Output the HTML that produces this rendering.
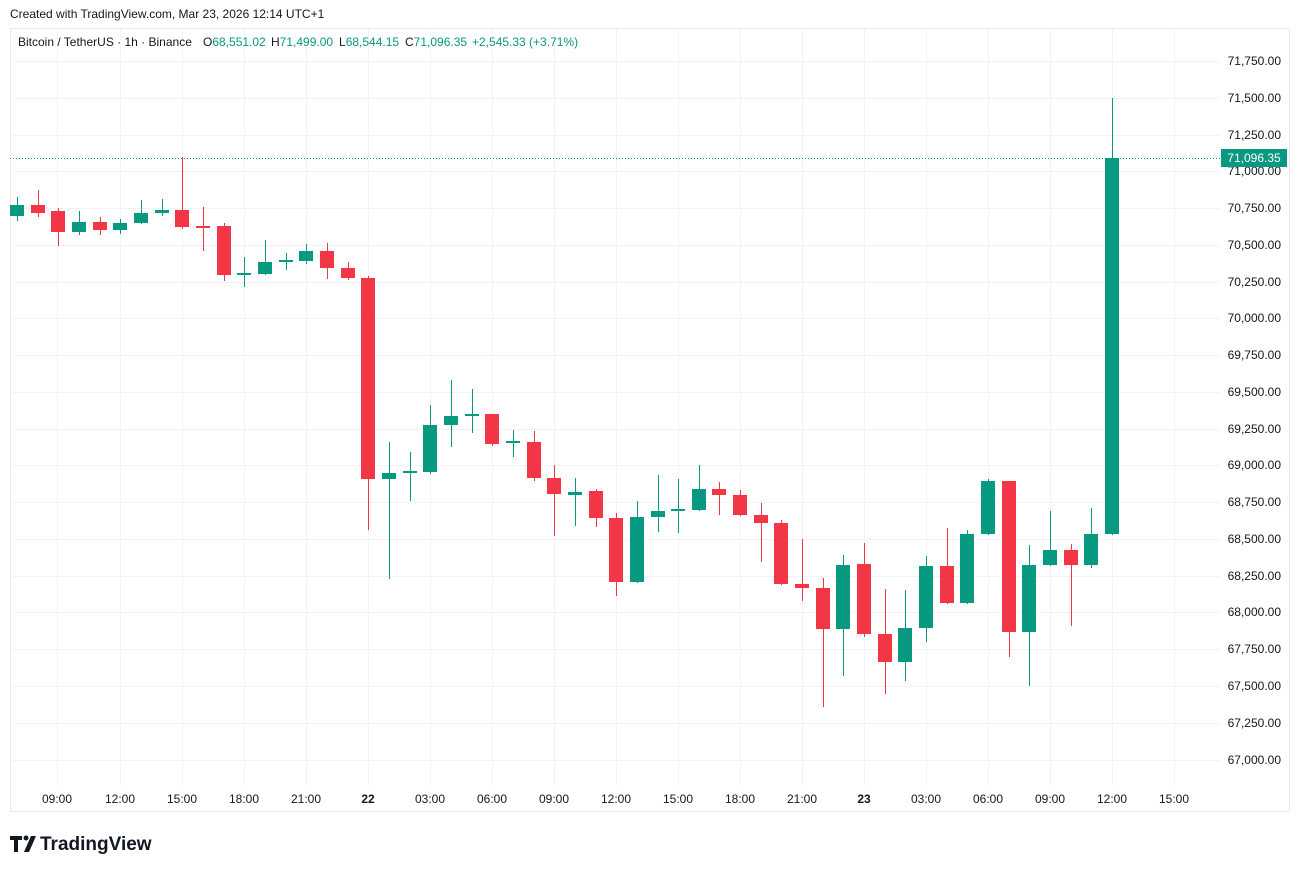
<!DOCTYPE html>
<html><head><meta charset="utf-8"><style>
html,body{margin:0;padding:0;background:#fff;}
svg{display:block;font-family:"Liberation Sans",sans-serif;}
.g line{stroke:#089981}.g rect{fill:#089981}
.r line{stroke:#f23645}.r rect{fill:#f23645}
</style></head><body>
<svg width="1300" height="873" viewBox="0 0 1300 873" xmlns="http://www.w3.org/2000/svg">
<rect width="1300" height="873" fill="#fff"/>
<text x="10" y="18" font-size="12" fill="#131722">Created with TradingView.com, Mar 23, 2026 12:14 UTC+1</text>
<rect x="10.5" y="28.5" width="1279" height="783" fill="none" stroke="#e8eaee"/>
<g stroke="#f0f3fa" stroke-width="1">
<line x1="10" x2="1220" y1="61.5" y2="61.5"/><line x1="10" x2="1220" y1="98.5" y2="98.5"/>
<line x1="10" x2="1220" y1="135.5" y2="135.5"/><line x1="10" x2="1220" y1="171.5" y2="171.5"/>
<line x1="10" x2="1220" y1="208.5" y2="208.5"/><line x1="10" x2="1220" y1="245.5" y2="245.5"/>
<line x1="10" x2="1220" y1="282.5" y2="282.5"/><line x1="10" x2="1220" y1="318.5" y2="318.5"/>
<line x1="10" x2="1220" y1="355.5" y2="355.5"/><line x1="10" x2="1220" y1="392.5" y2="392.5"/>
<line x1="10" x2="1220" y1="429.5" y2="429.5"/><line x1="10" x2="1220" y1="465.5" y2="465.5"/>
<line x1="10" x2="1220" y1="502.5" y2="502.5"/><line x1="10" x2="1220" y1="539.5" y2="539.5"/>
<line x1="10" x2="1220" y1="576.5" y2="576.5"/><line x1="10" x2="1220" y1="612.5" y2="612.5"/>
<line x1="10" x2="1220" y1="649.5" y2="649.5"/><line x1="10" x2="1220" y1="686.5" y2="686.5"/>
<line x1="10" x2="1220" y1="723.5" y2="723.5"/><line x1="10" x2="1220" y1="760.5" y2="760.5"/>
<line y1="29" y2="785" x1="57.5" x2="57.5"/><line y1="29" y2="785" x1="120.5" x2="120.5"/>
<line y1="29" y2="785" x1="182.5" x2="182.5"/><line y1="29" y2="785" x1="244.5" x2="244.5"/>
<line y1="29" y2="785" x1="306.5" x2="306.5"/><line y1="29" y2="785" x1="368.5" x2="368.5"/>
<line y1="29" y2="785" x1="430.5" x2="430.5"/><line y1="29" y2="785" x1="492.5" x2="492.5"/>
<line y1="29" y2="785" x1="554.5" x2="554.5"/><line y1="29" y2="785" x1="616.5" x2="616.5"/>
<line y1="29" y2="785" x1="678.5" x2="678.5"/><line y1="29" y2="785" x1="740.5" x2="740.5"/>
<line y1="29" y2="785" x1="802.5" x2="802.5"/><line y1="29" y2="785" x1="864.5" x2="864.5"/>
<line y1="29" y2="785" x1="926.5" x2="926.5"/><line y1="29" y2="785" x1="988.5" x2="988.5"/>
<line y1="29" y2="785" x1="1050.5" x2="1050.5"/><line y1="29" y2="785" x1="1112.5" x2="1112.5"/>
<line y1="29" y2="785" x1="1174.5" x2="1174.5"/>
</g>
<g font-size="12" fill="#131722">
<text x="18" y="46">Bitcoin / TetherUS · 1h · Binance</text>
<text x="203" y="46">O<tspan fill="#089981">68,551.02</tspan></text>
<text x="271" y="46">H<tspan fill="#089981">71,499.00</tspan></text>
<text x="339" y="46">L<tspan fill="#089981">68,544.15</tspan></text>
<text x="405" y="46">C<tspan fill="#089981">71,096.35</tspan></text>
<text x="472" y="46" fill="#089981">+2,545.33 (+3.71%)</text>
</g>
<g font-size="12" fill="#131722" text-anchor="end">
<text x="1281" y="65">71,750.00</text><text x="1281" y="102">71,500.00</text>
<text x="1281" y="139">71,250.00</text><text x="1281" y="175">71,000.00</text>
<text x="1281" y="212">70,750.00</text><text x="1281" y="249">70,500.00</text>
<text x="1281" y="286">70,250.00</text><text x="1281" y="322">70,000.00</text>
<text x="1281" y="359">69,750.00</text><text x="1281" y="396">69,500.00</text>
<text x="1281" y="433">69,250.00</text><text x="1281" y="469">69,000.00</text>
<text x="1281" y="506">68,750.00</text><text x="1281" y="543">68,500.00</text>
<text x="1281" y="580">68,250.00</text><text x="1281" y="616">68,000.00</text>
<text x="1281" y="653">67,750.00</text><text x="1281" y="690">67,500.00</text>
<text x="1281" y="727">67,250.00</text><text x="1281" y="764">67,000.00</text>
</g>
<g font-size="12" fill="#131722" text-anchor="middle">
<text x="57" y="803">09:00</text><text x="120" y="803">12:00</text><text x="182" y="803">15:00</text>
<text x="244" y="803">18:00</text><text x="306" y="803">21:00</text><text x="368" y="803" font-weight="bold">22</text>
<text x="430" y="803">03:00</text><text x="492" y="803">06:00</text><text x="554" y="803">09:00</text>
<text x="616" y="803">12:00</text><text x="678" y="803">15:00</text><text x="740" y="803">18:00</text>
<text x="802" y="803">21:00</text><text x="864" y="803" font-weight="bold">23</text><text x="926" y="803">03:00</text>
<text x="988" y="803">06:00</text><text x="1050" y="803">09:00</text><text x="1112" y="803">12:00</text>
<text x="1174" y="803">15:00</text>
</g>
<line x1="10" x2="1220" y1="158.5" y2="158.5" stroke="#089981" stroke-dasharray="1,2"/>

<g class="g"><line x1="17.5" x2="17.5" y1="197" y2="221"/><rect x="10" y="205" width="14" height="11"/></g>
<g class="r"><line x1="38.5" x2="38.5" y1="190" y2="217"/><rect x="31" y="205" width="14" height="8"/></g>
<g class="r"><line x1="58.5" x2="58.5" y1="208" y2="246"/><rect x="51" y="211" width="14" height="21"/></g>
<g class="g"><line x1="79.5" x2="79.5" y1="211" y2="235"/><rect x="72" y="222" width="14" height="10"/></g>
<g class="r"><line x1="100.5" x2="100.5" y1="217" y2="235"/><rect x="93" y="222" width="14" height="8"/></g>
<g class="g"><line x1="120.5" x2="120.5" y1="219" y2="234"/><rect x="113" y="223" width="14" height="7"/></g>
<g class="g"><line x1="141.5" x2="141.5" y1="200" y2="224"/><rect x="134" y="213" width="14" height="10"/></g>
<g class="g"><line x1="162.5" x2="162.5" y1="199" y2="216"/><rect x="155" y="210" width="14" height="3"/></g>
<g class="r"><line x1="182.5" x2="182.5" y1="157" y2="229"/><rect x="175" y="210" width="14" height="17"/></g>
<g class="r"><line x1="203.5" x2="203.5" y1="207" y2="251"/><rect x="196" y="226" width="14" height="2"/></g>
<g class="r"><line x1="224.5" x2="224.5" y1="223" y2="281"/><rect x="217" y="226" width="14" height="49"/></g>
<g class="g"><line x1="244.5" x2="244.5" y1="257" y2="287"/><rect x="237" y="273" width="14" height="2"/></g>
<g class="g"><line x1="265.5" x2="265.5" y1="240" y2="275"/><rect x="258" y="262" width="14" height="12"/></g>
<g class="g"><line x1="286.5" x2="286.5" y1="253" y2="270"/><rect x="279" y="260" width="14" height="2"/></g>
<g class="g"><line x1="306.5" x2="306.5" y1="244" y2="264"/><rect x="299" y="251" width="14" height="10"/></g>
<g class="r"><line x1="327.5" x2="327.5" y1="243" y2="279"/><rect x="320" y="251" width="14" height="17"/></g>
<g class="r"><line x1="348.5" x2="348.5" y1="262" y2="280"/><rect x="341" y="268" width="14" height="10"/></g>
<g class="r"><line x1="368.5" x2="368.5" y1="276" y2="530"/><rect x="361" y="278" width="14" height="201"/></g>
<g class="g"><line x1="389.5" x2="389.5" y1="442" y2="579"/><rect x="382" y="473" width="14" height="6"/></g>
<g class="g"><line x1="410.5" x2="410.5" y1="452" y2="501"/><rect x="403" y="471" width="14" height="2"/></g>
<g class="g"><line x1="430.5" x2="430.5" y1="405" y2="474"/><rect x="423" y="425" width="14" height="47"/></g>
<g class="g"><line x1="451.5" x2="451.5" y1="380" y2="447"/><rect x="444" y="416" width="14" height="9"/></g>
<g class="g"><line x1="472.5" x2="472.5" y1="389" y2="433"/><rect x="465" y="414" width="14" height="2"/></g>
<g class="r"><line x1="492.5" x2="492.5" y1="414" y2="446"/><rect x="485" y="414" width="14" height="30"/></g>
<g class="g"><line x1="513.5" x2="513.5" y1="430" y2="457"/><rect x="506" y="441" width="14" height="2"/></g>
<g class="r"><line x1="534.5" x2="534.5" y1="431" y2="481"/><rect x="527" y="442" width="14" height="36"/></g>
<g class="r"><line x1="554.5" x2="554.5" y1="465" y2="536"/><rect x="547" y="478" width="14" height="16"/></g>
<g class="g"><line x1="575.5" x2="575.5" y1="478" y2="526"/><rect x="568" y="492" width="14" height="3"/></g>
<g class="r"><line x1="596.5" x2="596.5" y1="489" y2="527"/><rect x="589" y="491" width="14" height="27"/></g>
<g class="r"><line x1="616.5" x2="616.5" y1="513" y2="596"/><rect x="609" y="518" width="14" height="64"/></g>
<g class="g"><line x1="637.5" x2="637.5" y1="501" y2="583"/><rect x="630" y="517" width="14" height="65"/></g>
<g class="g"><line x1="658.5" x2="658.5" y1="475" y2="532"/><rect x="651" y="511" width="14" height="6"/></g>
<g class="g"><line x1="678.5" x2="678.5" y1="479" y2="533"/><rect x="671" y="509" width="14" height="2"/></g>
<g class="g"><line x1="699.5" x2="699.5" y1="465" y2="511"/><rect x="692" y="489" width="14" height="21"/></g>
<g class="r"><line x1="719.5" x2="719.5" y1="482" y2="515"/><rect x="712" y="489" width="14" height="6"/></g>
<g class="r"><line x1="740.5" x2="740.5" y1="490" y2="516"/><rect x="733" y="495" width="14" height="20"/></g>
<g class="r"><line x1="761.5" x2="761.5" y1="503" y2="562"/><rect x="754" y="515" width="14" height="8"/></g>
<g class="r"><line x1="781.5" x2="781.5" y1="520" y2="585"/><rect x="774" y="523" width="14" height="61"/></g>
<g class="r"><line x1="802.5" x2="802.5" y1="539" y2="601"/><rect x="795" y="584" width="14" height="4"/></g>
<g class="r"><line x1="823.5" x2="823.5" y1="578" y2="707"/><rect x="816" y="588" width="14" height="41"/></g>
<g class="g"><line x1="843.5" x2="843.5" y1="555" y2="676"/><rect x="836" y="565" width="14" height="64"/></g>
<g class="r"><line x1="864.5" x2="864.5" y1="543" y2="637"/><rect x="857" y="564" width="14" height="70"/></g>
<g class="r"><line x1="885.5" x2="885.5" y1="589" y2="694"/><rect x="878" y="634" width="14" height="28"/></g>
<g class="g"><line x1="905.5" x2="905.5" y1="590" y2="681"/><rect x="898" y="628" width="14" height="34"/></g>
<g class="g"><line x1="926.5" x2="926.5" y1="556" y2="642"/><rect x="919" y="566" width="14" height="62"/></g>
<g class="r"><line x1="947.5" x2="947.5" y1="528" y2="604"/><rect x="940" y="566" width="14" height="37"/></g>
<g class="g"><line x1="967.5" x2="967.5" y1="530" y2="604"/><rect x="960" y="534" width="14" height="69"/></g>
<g class="g"><line x1="988.5" x2="988.5" y1="479" y2="535"/><rect x="981" y="481" width="14" height="53"/></g>
<g class="r"><line x1="1009.5" x2="1009.5" y1="481" y2="657"/><rect x="1002" y="481" width="14" height="151"/></g>
<g class="g"><line x1="1029.5" x2="1029.5" y1="545" y2="686"/><rect x="1022" y="565" width="14" height="67"/></g>
<g class="g"><line x1="1050.5" x2="1050.5" y1="511" y2="566"/><rect x="1043" y="550" width="14" height="15"/></g>
<g class="r"><line x1="1071.5" x2="1071.5" y1="544" y2="626"/><rect x="1064" y="550" width="14" height="15"/></g>
<g class="g"><line x1="1091.5" x2="1091.5" y1="508" y2="568"/><rect x="1084" y="534" width="14" height="31"/></g>
<g class="g"><line x1="1112.5" x2="1112.5" y1="98" y2="535"/><rect x="1105" y="158" width="14" height="376"/></g>

<rect x="1221" y="149" width="66" height="18" fill="#089981"/>
<text x="1254" y="162" font-size="12" fill="#fff" text-anchor="middle">71,096.35</text>
<g transform="translate(10,834)">
<path d="M0 2h12v4h-4v12h-4v-12h-4z" fill="#131722"/>
<circle cx="16" cy="4" r="2.5" fill="#131722"/>
<path d="M14 18l7-16h5l-7 16z" fill="#131722"/>
<text x="30" y="16" font-size="19" font-weight="bold" fill="#131722">TradingView</text>
</g>
</svg>
</body></html>
